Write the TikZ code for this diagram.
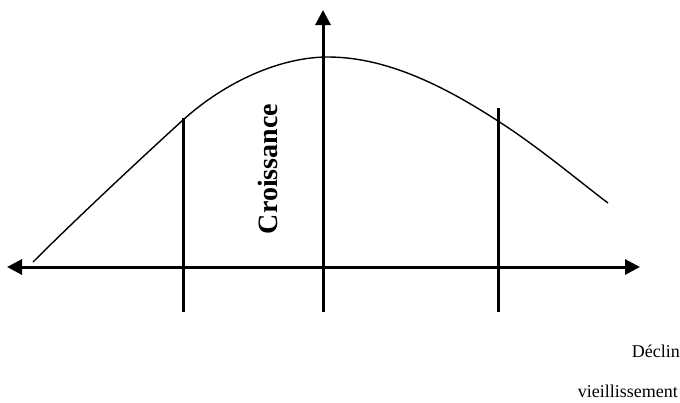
\documentclass[tikz,border=0pt]{standalone}
\usepackage{fontspec}
\setmainfont{Liberation Serif}
\usetikzlibrary{arrows.meta}
\tikzset{
  axis/.style={line width=3pt, -{Triangle[length=15pt,width=15pt]}},
  baraxis/.style={line width=3pt, {Triangle[length=15pt,width=15pt]}-{Triangle[length=15pt,width=15pt]}},
  bar/.style={line width=3pt},
  curve/.style={line width=1.4pt},
  lbl/.style={inner sep=0pt, font=\fontsize{18}{22}\selectfont}
}
\begin{document}
\begin{tikzpicture}[x=1pt,y=-1pt]
\useasboundingbox (0,0) rectangle (680,402);
\coordinate (hl) at (7,267);
\coordinate (hr) at (640,267);
\coordinate (vb) at (323,312);
\coordinate (vt) at (323,10);
\coordinate (l1b) at (183,312);
\coordinate (l1t) at (183,118);
\coordinate (l2b) at (498,312);
\coordinate (l2t) at (498,108);
\coordinate (c0) at (33,262);
\coordinate (c1) at (183,120);
\coordinate (c2) at (328,57);
\coordinate (c3) at (498,121);
\coordinate (c4) at (608,203);
\draw[baraxis] (hl) -- (hr);
\draw[axis] (vb) -- (vt);
\draw[bar] (l1b) -- (l1t);
\draw[bar] (l2b) -- (l2t);
\draw[curve] (c0) .. controls (80,215) and (150,150) .. (c1)
  .. controls (225,82) and (280,57) .. (c2)
  .. controls (390,57) and (450,90) .. (c3)
  .. controls (540,148) and (580,182) .. (c4);
\node[lbl, rotate=90, font=\fontsize{28}{32}\selectfont\bfseries] (cr) at (268,169) {Croissance};
\node[lbl, anchor=base east] (de) at (680,357) {Déclin};
\node[lbl, anchor=base east] (vi) at (678,397) {vieillissement};
\end{tikzpicture}
\end{document}
